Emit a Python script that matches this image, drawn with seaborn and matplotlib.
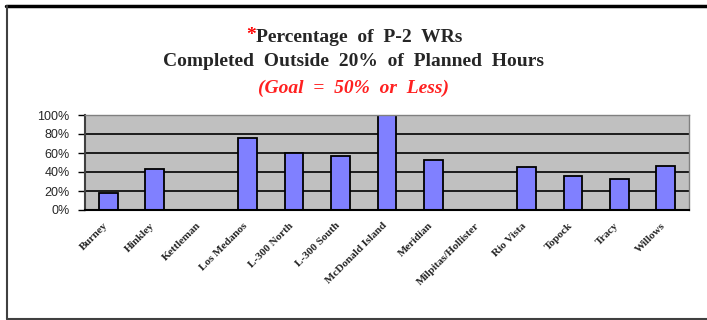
import pandas as pd
import seaborn as sns
import matplotlib.pyplot as plt
import matplotlib.transforms as mtransforms
from matplotlib.lines import Line2D
from matplotlib.ticker import FixedLocator

# Chart data
stations = ["Burney", "Hinkley", "Kettleman", "Los Medanos", "L-300 North", "L-300 South",
            "McDonald Island", "Meridian", "Milpitas/Hollister", "Rio Vista", "Topock",
            "Tracy", "Willows"]
pct_outside = [17.5, 43, 0, 76, 60, 57, 100, 53, 0, 45, 36, 33, 46]
y_ticks = [0, 20, 40, 60, 80, 100]
y_tick_labels = ["0%", "20%", "40%", "60%", "80%", "100%"]

df = pd.DataFrame({"Station": stations, "Percent": pct_outside})

sns.set_style("white")
fig = plt.figure(figsize=(7.07, 3.2), dpi=100)
ax = fig.add_axes([85 / 707, 1 - 210 / 320, 604 / 707, 95 / 320])

sns.barplot(data=df, x="Station", y="Percent", order=stations, color="#8080ff",
            saturation=1, edgecolor="black", linewidth=1.3, width=0.4, ax=ax)

ax.set_facecolor("#c0c0c0")
ax.set_ylim(0, 100)
ax.set_xlim(-0.5, len(stations) - 0.5)
ax.set_yticks(y_ticks)
ax.set_yticklabels(y_tick_labels, fontsize=9, family="Liberation Sans")
ax.yaxis.grid(True, color="black", linewidth=1.2)
ax.set_axisbelow(True)
ax.set_xlabel("")
ax.set_ylabel("")

# category labels at bar centres, tick marks at category boundaries
ax.set_xticks(range(len(stations)))
ax.set_xticklabels(stations, rotation=45, ha="right", rotation_mode="anchor",
                   fontsize=8, family="Liberation Serif", fontweight="bold")
ax.tick_params(axis="x", which="major", length=0, pad=8)
shift = mtransforms.ScaledTranslation(-5 / 100, 0, fig.dpi_scale_trans)
for lbl in ax.get_xticklabels():
    lbl.set_transform(lbl.get_transform() + shift)
ax.xaxis.set_minor_locator(FixedLocator([i - 0.5 for i in range(len(stations) + 1)]))
ax.tick_params(axis="x", which="minor", length=4, width=1, color="black", direction="out")
ax.tick_params(axis="y", length=5, width=1, color="black", direction="out", left=True, pad=6)

for side in ["top", "right"]:
    ax.spines[side].set_color("#808080")
    ax.spines[side].set_linewidth(1)
ax.spines["left"].set_color("#404040")
ax.spines["left"].set_linewidth(1.5)
ax.spines["bottom"].set_color("black")
ax.spines["bottom"].set_linewidth(1.5)

# title block
title_font = dict(fontsize=14, family="Liberation Serif", fontweight="bold")
line1 = fig.text(0.5 + 6 / 707, 1 - 37 / 320, "Percentage  of  P-2  WRs", ha="center",
                 va="center", **title_font)
fig.text(0.5, 1 - 62 / 320, "Completed  Outside  20%  of  Planned  Hours", ha="center",
         va="center", **title_font)
fig.text(0.5, 1 - 88 / 320, "(Goal  =  50%  or  Less)", ha="center", va="center",
         style="italic", color="#ff2020", **title_font)

# red asterisk right in front of the first title line
fig.canvas.draw()
bb = line1.get_window_extent()
fig.text(bb.x0 / fig.bbox.width, 1 - 36 / 320, "*", ha="right", va="center", color="red",
         **title_font)

# outer frame lines
fig.add_artist(Line2D([6 / 707, 1], [1 - 6 / 320, 1 - 6 / 320], color="black", linewidth=2.5))
fig.add_artist(Line2D([7 / 707, 7 / 707], [1 - 6 / 320, 1 / 320], color="#404040", linewidth=1.5))
fig.add_artist(Line2D([7 / 707, 1], [1 / 320, 1 / 320], color="#404040", linewidth=1.5))

plt.savefig("out.png", dpi=100)
